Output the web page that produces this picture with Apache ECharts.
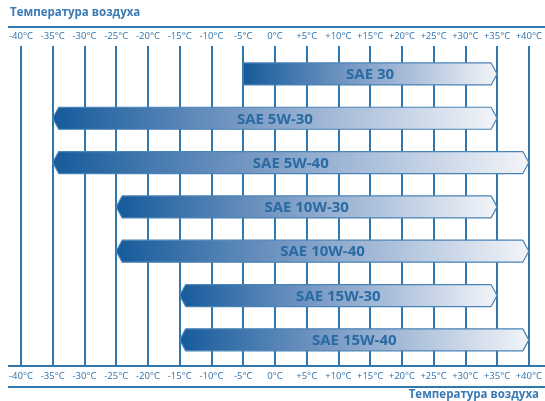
<!DOCTYPE html>
<html>
<head>
<meta charset="utf-8">
<script src="https://cdn.jsdelivr.net/npm/echarts@6/dist/echarts.min.js"></script>
<style>
html,body{margin:0;padding:0;background:#fff;}
#c{width:545px;height:401px;}
</style>
</head>
<body>
<div id="c"></div>
<script>
const axisTitle = 'Температура воздуха';
const oils = ['SAE 30', 'SAE 5W-30', 'SAE 5W-40', 'SAE 10W-30', 'SAE 10W-40', 'SAE 15W-30', 'SAE 15W-40'];
const minTemp = [-5, -35, -35, -25, -25, -15, -15];
const maxTemp = [35, 35, 40, 35, 40, 35, 40];
const tempMin = -40, tempMax = 40, tempStep = 5;

const blue = '#2f78ae';
const fmt = v => (v > 0 ? '+' : '') + v + '°C';

const chart = echarts.init(document.getElementById('c'), null, {renderer: 'canvas'});
const data = oils.map((n, i) => [i, minTemp[i], maxTemp[i], n]);

const labelStyle = {
  color: '#2f72ad', fontSize: 9.5, fontFamily: 'Open Sans', formatter: fmt
};

chart.setOption({
  animation: false,
  grid: {left: 21, right: 13, top: 46, bottom: 35},
  xAxis: [
    {
      type: 'value', position: 'top', min: tempMin, max: tempMax, interval: tempStep,
      axisLine: {show: false}, axisTick: {show: false},
      axisLabel: Object.assign({margin: 5}, labelStyle),
      splitLine: {show: true, lineStyle: {color: blue, width: 2}}
    },
    {
      type: 'value', position: 'bottom', min: tempMin, max: tempMax, interval: tempStep,
      axisLine: {show: false}, axisTick: {show: false},
      axisLabel: Object.assign({margin: 5}, labelStyle),
      splitLine: {show: false}
    }
  ],
  yAxis: {type: 'value', inverse: true, min: -0.63, max: 6.59, show: false},
  graphic: [
    {type: 'text', left: 10, top: 7, style: {text: axisTitle, fill: '#3a7ab4', font: 'bold 11.5px "Open Sans"'}},
    {type: 'text', right: 6, top: 389, style: {text: axisTitle, fill: '#3a7ab4', font: 'bold 11.5px "Open Sans"'}},
    {type: 'line', shape: {x1: 8, y1: 27, x2: 545, y2: 27}, style: {stroke: blue, lineWidth: 2}},
    {type: 'line', shape: {x1: 8, y1: 366, x2: 545, y2: 366}, style: {stroke: blue, lineWidth: 2}},
    {type: 'line', shape: {x1: 8, y1: 387, x2: 545, y2: 387}, style: {stroke: blue, lineWidth: 2}}
  ],
  series: [{
    type: 'custom',
    xAxisIndex: 0,
    data: data,
    encode: {x: [1, 2], y: 0},
    renderItem: function (params, api) {
      const i = api.value(0);
      const p1 = api.coord([api.value(1), i]);
      const p2 = api.coord([api.value(2), i]);
      const name = oils[i];
      const h = 22, d = 6, y = p1[1];
      const x1 = p1[0], x2 = p2[0];
      const pts = name.indexOf('W') >= 0
        ? [[x1, y], [x1 + d, y - h / 2], [x2 - d, y - h / 2], [x2, y], [x2 - d, y + h / 2], [x1 + d, y + h / 2]]
        : [[x1, y - h / 2], [x2 - d, y - h / 2], [x2, y], [x2 - d, y + h / 2], [x1, y + h / 2]];
      return {
        type: 'group',
        children: [
          {
            type: 'polygon',
            shape: {points: pts},
            style: {
              fill: new echarts.graphic.LinearGradient(0, 0, 1, 0, [
                {offset: 0, color: '#155a9b'},
                {offset: 0.45, color: '#7d9dc6'},
                {offset: 1, color: '#f3f5f9'}
              ]),
              stroke: '#4a83b6', lineWidth: 1.2, lineJoin: 'round'
            }
          },
          {
            type: 'text',
            style: {
              text: name, x: (x1 + x2) / 2, y: y + 1, align: 'center', verticalAlign: 'middle',
              fill: '#2a6aa3', font: 'bold 15px "Open Sans"'
            }
          }
        ]
      };
    }
  }]
});
</script>
</body>
</html>
